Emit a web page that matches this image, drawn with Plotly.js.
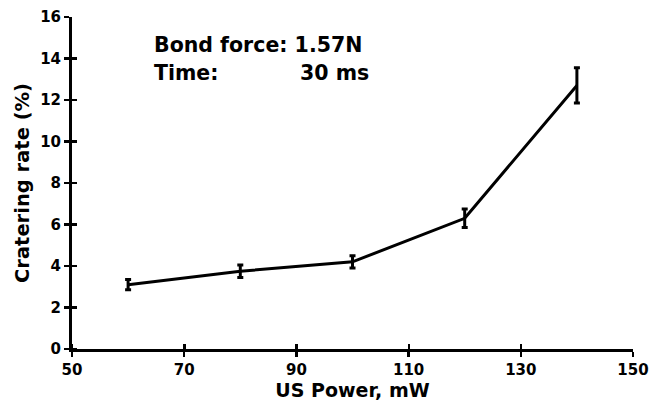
<!DOCTYPE html>
<html><head><meta charset="utf-8">
<script src="https://cdn.plot.ly/plotly-3.0.1.min.js"></script>
<style>html,body{margin:0;padding:0;background:#fff}#chart{width:649px;height:405px}</style>
</head><body><div id="chart"></div>
<script>
const power = [60, 80, 100, 120, 140];
const crateringRate = [3.1, 3.75, 4.2, 6.3, 12.7];
const errorSD = [0.25, 0.3, 0.3, 0.45, 0.85];
const xTicks = [50, 70, 90, 110, 130, 150];
const yTicks = [0, 2, 4, 6, 8, 10, 12, 14, 16];

const F = 'DejaVu Sans, sans-serif';
const trace = {
  x: power, y: crateringRate, type: 'scatter', mode: 'lines',
  line: {color: '#000', width: 3},
  error_y: {type: 'data', array: errorSD, visible: true, color: '#000', thickness: 3, width: 3},
  showlegend: false, cliponaxis: false
};
function axis(ticks, range, title, tsize, standoff) {
  return {
    range: range, tickmode: 'array', tickvals: ticks, ticktext: ticks.map(v => '<b>' + v + '</b>'),
    showgrid: false, zeroline: false, showline: true, linewidth: 3, linecolor: '#000',
    ticks: 'outside', ticklen: 5, tickwidth: 2.5, tickcolor: '#000',
    tickfont: {family: 'DejaVu Sans', size: 15, color: '#000', weight: 'bold'},
    minor: {tickmode: 'array', tickvals: ticks.map(v => v + (range[1] - range[0]) * 0.0004),
      ticks: 'inside', ticklen: 5, tickwidth: 2.5, tickcolor: '#000', showgrid: false},
    title: {text: '<b>' + title + '</b>', font: {family: F, size: tsize}, standoff: standoff}
  };
}
const layout = {
  width: 649, height: 405,
  margin: {l: 72, r: 16, t: 17, b: 56},
  paper_bgcolor: '#fff', plot_bgcolor: '#fff',
  font: {family: F, color: '#000'},
  xaxis: axis(xTicks, [50, 150], 'US Power, mW', 19, 1),
  yaxis: axis(yTicks, [0, 16], 'Cratering rate (%)', 19.5, 6),
  annotations: [
    {x: 64.26, y: 14.65, xref: 'x', yref: 'y', xanchor: 'left', yanchor: 'middle', showarrow: false,
     text: '<b>Bond force: 1.57N</b>', font: {family: F, size: 20.5}},
    {x: 64.26, y: 13.3, xref: 'x', yref: 'y', xanchor: 'left', yanchor: 'middle', showarrow: false,
     text: '<b>Time:</b>', font: {family: F, size: 20.5}},
    {x: 90.3, y: 13.3, xref: 'x', yref: 'y', xanchor: 'left', yanchor: 'middle', showarrow: false,
     text: '<b>30 ms</b>', font: {family: F, size: 20.5}}
  ]
};
Plotly.newPlot('chart', [trace], layout, {staticPlot: true});
</script></body></html>
